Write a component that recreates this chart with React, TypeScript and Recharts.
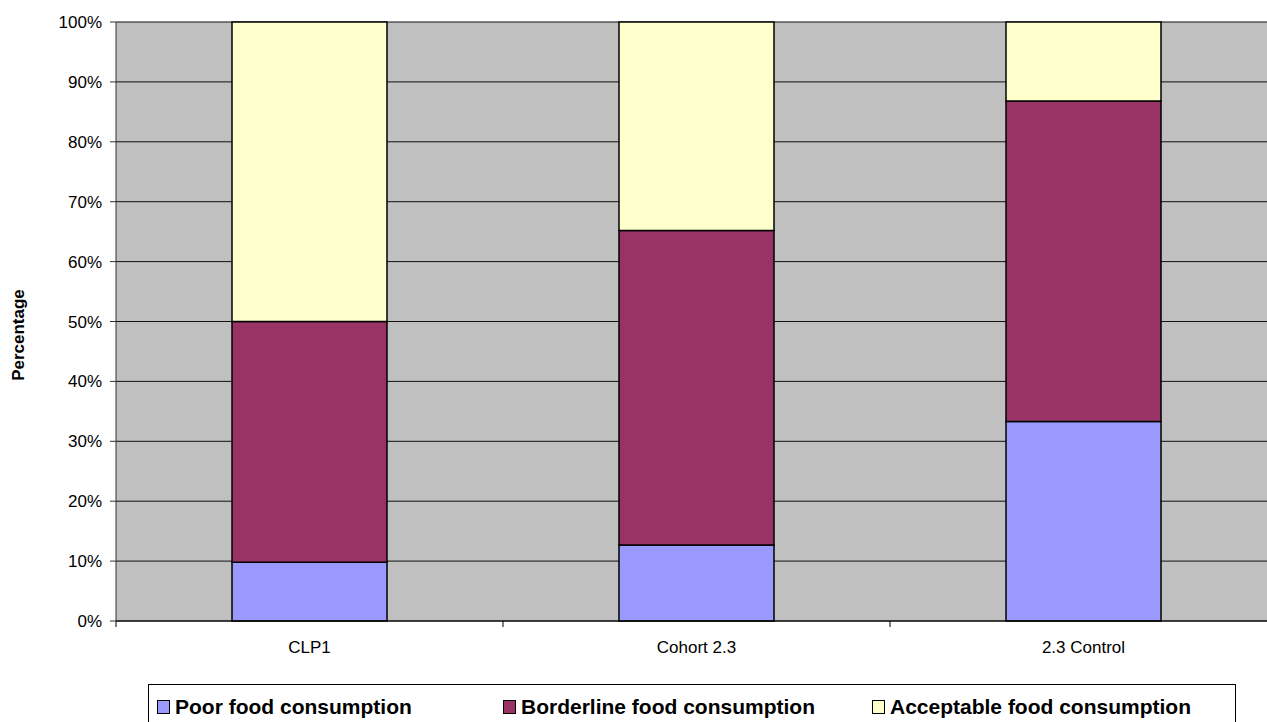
import { BarChart, Bar, XAxis, YAxis, CartesianGrid, Label } from "recharts";

const categories = ["CLP1", "Cohort 2.3", "2.3 Control"];
const poor = [9.8, 12.7, 33.3];
const borderline = [40.2, 52.5, 53.5];
const acceptable = [50.0, 34.8, 13.2];
const yTicks = [0, 10, 20, 30, 40, 50, 60, 70, 80, 90, 100];

const series = [
  { key: "poor", name: "Poor food consumption", color: "#9999FF" },
  { key: "borderline", name: "Borderline food consumption", color: "#993366" },
  { key: "acceptable", name: "Acceptable food consumption", color: "#FFFFCC" },
];

const data = categories.map((name, i) => ({
  name,
  poor: poor[i],
  borderline: borderline[i],
  acceptable: acceptable[i],
}));

const FONT = "'Liberation Sans', Arial, sans-serif";

// category label in the band centre, tick marks on the band edges
function CategoryTick(props: any) {
  const { x, y, payload, index, visibleTicksCount } = props;
  const half = payload.offset ?? 0;
  const last = index === visibleTicksCount - 1;
  return (
    <g>
      <line x1={x - half} x2={x - half} y1={y} y2={y + 6} stroke="#000" />
      {last && <line x1={x + half} x2={x + half} y1={y} y2={y + 6} stroke="#000" />}
      <text
        x={x}
        y={y + 26}
        textAnchor="middle"
        dominantBaseline="central"
        fontFamily={FONT}
        fontSize={17}
        fill="#000"
      >
        {payload.value}
      </text>
    </g>
  );
}

function LegendBox() {
  return (
    <div
      style={{
        position: "absolute",
        left: 148,
        top: 684,
        width: 1088,
        height: 60,
        border: "1px solid #000",
        background: "#fff",
        boxSizing: "border-box",
        fontFamily: FONT,
        fontWeight: "bold",
        fontSize: 21,
        color: "#000",
      }}
    >
      {series.map((s, i) => (
        <div
          key={s.key}
          style={{
            position: "absolute",
            left: [8, 354, 723][i],
            top: 10,
            display: "flex",
            alignItems: "center",
            whiteSpace: "nowrap",
          }}
        >
          <span
            style={{
              display: "inline-block",
              width: 11,
              height: 12,
              background: s.color,
              border: "1px solid #000",
              marginRight: 5,
            }}
          />
          {s.name}
        </div>
      ))}
    </div>
  );
}

export default function App() {
  return (
    <div
      style={{
        position: "fixed",
        left: 0,
        top: 0,
        width: 1267,
        height: 722,
        overflow: "hidden",
        background: "#fff",
      }}
    >
      <BarChart
        width={1280}
        height={722}
        data={data}
        margin={{ top: 22, right: 3, bottom: 61, left: 0 }}
        barSize={155}
      >
        <CartesianGrid
          vertical={false}
          fill="#C0C0C0"
          fillOpacity={1}
          stroke="#111"
          strokeWidth={1}
        />
        <XAxis
          dataKey="name"
          height={40}
          interval={0}
          tickLine={false}
          tickSize={0}
          tickMargin={0}
          tick={<CategoryTick />}
          axisLine={{ stroke: "#000", strokeWidth: 1 }}
        />
        <YAxis
          width={116}
          domain={[0, 100]}
          ticks={yTicks}
          interval={0}
          tickFormatter={(v) => `${v}%`}
          tickSize={6}
          tickMargin={8}
          tickLine={{ stroke: "#333" }}
          axisLine={{ stroke: "#333", strokeWidth: 1 }}
          tick={{ fontFamily: FONT, fontSize: 17, fill: "#000" }}
        >
          <Label
            content={() => (
              <text
                x={18}
                y={335}
                transform="rotate(-90 18 335)"
                textAnchor="middle"
                dominantBaseline="central"
                fontFamily={FONT}
                fontWeight="bold"
                fontSize={17}
                fill="#000"
              >
                Percentage
              </text>
            )}
          />
        </YAxis>
        {series.map((s) => (
          <Bar
            key={s.key}
            dataKey={s.key}
            name={s.name}
            stackId="food"
            fill={s.color}
            stroke="#000"
            strokeWidth={1.5}
            isAnimationActive={false}
          />
        ))}
      </BarChart>
      <LegendBox />
    </div>
  );
}
